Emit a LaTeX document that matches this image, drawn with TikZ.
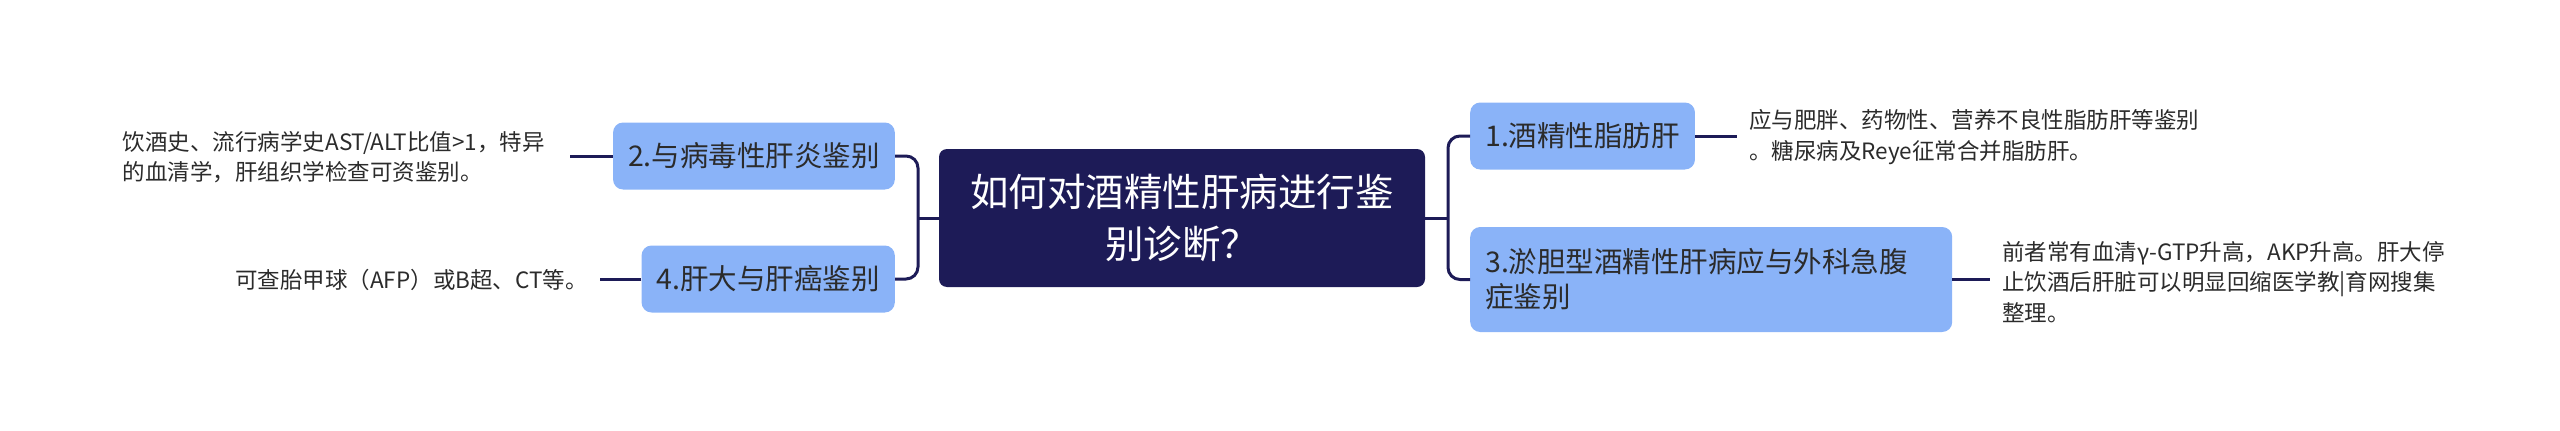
\documentclass[tikz,border=0pt]{standalone}
\usepackage{fontspec}
\setmainfont{Noto Sans CJK SC}
\definecolor{rootblue}{HTML}{1D1B57}
\definecolor{topicblue}{HTML}{8AB3F8}
\definecolor{inktext}{HTML}{2B2B2B}

\begin{document}
\begin{tikzpicture}
  [x=1pt, y=-1pt,
   root/.style={fill=rootblue, text=white, rounded corners=8pt, align=center,
     minimum width=486pt, minimum height=138pt, font=\fontsize{38.5}{52}\selectfont},
   topic/.style={fill=topicblue, text=inktext, rounded corners=10pt, inner xsep=15pt,
     minimum height=67pt, font=\fontsize{28.5}{35}\selectfont},
   leaf/.style={text=inktext, align=left, inner xsep=12pt, inner ysep=0pt,
     font=\fontsize{22.5}{30.5}\selectfont},
   branch/.style={draw=rootblue, line width=3pt, rounded corners=12pt}]

  \useasboundingbox (0,0) rectangle (2560,431);

  \node[root] (root) at (1182,218) {如何对酒精性肝病进行鉴\\别诊断？};

  \node[topic, anchor=west] (t1) at (1470,136) {1.酒精性脂肪肝};
  \node[topic, anchor=west, text width=452pt, align=left, minimum height=105pt] (t3) at (1470,279.5)
    {3.淤胆型酒精性肝病应与外科急腹\\症鉴别};
  \node[topic, anchor=east] (t2) at (895,156) {2.与病毒性肝炎鉴别};
  \node[topic, anchor=east] (t4) at (895,279) {4.肝大与肝癌鉴别};

  \node[leaf, anchor=west] (l1) at (1737,137)
    {应与肥胖、药物性、营养不良性脂肪肝等鉴别\\。糖尿病及Reye征常合并脂肪肝。};
  \node[leaf, anchor=west] (l3) at (1990,282)
    {前者常有血清γ-GTP升高，AKP升高。肝大停\\止饮酒后肝脏可以明显回缩医学教|育网搜集\\整理。};
  \node[leaf, anchor=east] (l2) at (557,157)
    {饮酒史、流行病学史AST/ALT比值>1，特异\\的血清学，肝组织学检查可资鉴别。};
  \node[leaf, anchor=east] (l4) at (600,280) {可查胎甲球（AFP）或B超、CT等。};

  \coordinate (busL) at (918,218);
  \coordinate (busR) at (1448,218);

  \draw[branch] (root.west) -- (busL);
  \draw[branch] (t2.east) -| (busL) |- (t4.east);
  \draw[branch] (root.east) -- (busR);
  \draw[branch] (t1.west) -| (busR) |- (t3.west);

  \draw[branch] (t1.east) -- (t1.east -| l1.west);
  \draw[branch] (t3.east) -- (t3.east -| l3.west);
  \draw[branch, shorten >=13pt] (t2.west) -- (t2.west -| l2.east);
  \draw[branch] (t4.west) -- (t4.west -| l4.east);
\end{tikzpicture}
\end{document}
